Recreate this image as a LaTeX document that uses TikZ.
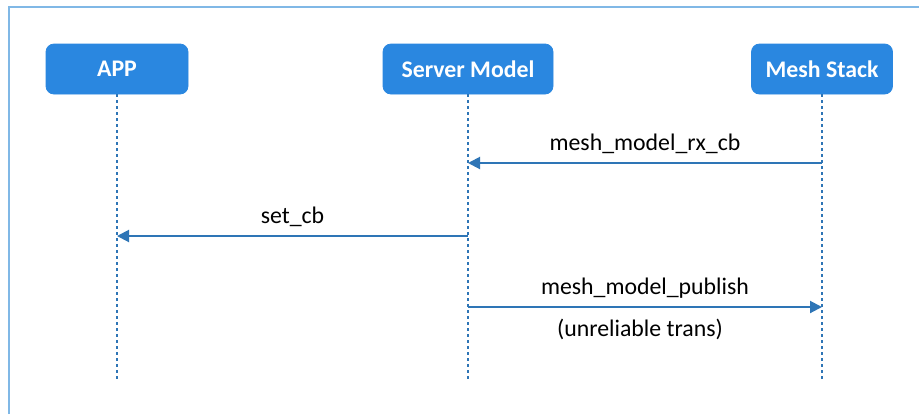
\documentclass[tikz,border=0pt]{standalone}
\usepackage{fontspec}
\setmainfont{Carlito}
\usetikzlibrary{arrows.meta}

\definecolor{boxblue}{RGB}{42,135,224}
\definecolor{lineblue}{RGB}{46,117,182}
\definecolor{frameblue}{RGB}{128,184,230}

\begin{document}
\begin{tikzpicture}[x=0.5pt, y=-0.5pt]

    \tikzstyle{actor} = [draw=boxblue, fill=boxblue, rounded corners=4pt, text=white, font=\fontsize{11.9}{14}\selectfont\bfseries, minimum height=25pt, inner sep=0pt]
    \tikzstyle{lifeline} = [lineblue, line width=1pt, dash pattern=on 1.5pt off 1.5pt]
    \tikzstyle{msg} = [lineblue, line width=1pt, -{Triangle[length=6pt, width=6pt]}]
    \tikzstyle{msgtext} = [font=\fontsize{11.9}{14}\selectfont, text=black, anchor=base]

    \useasboundingbox[fill=white] (0,0) rectangle (919,414);
    \draw[frameblue, line width=1pt] (8.5,414) -- (8.5,6.5) -- (919,6.5);

    \node[actor, minimum width=71pt] (app) at (117,69) {APP};
    \node[actor, minimum width=85pt] (server) at (468,69) {Server Model};
    \node[actor, minimum width=70.5pt] (stack) at (822,69) {Mesh Stack};

    % lifelines
    \coordinate (bottom) at (0,379);
    \draw[lifeline] (app.south) -- (app.south |- bottom);
    \draw[lifeline] (server.south) -- (server.south |- bottom);
    \draw[lifeline] (stack.south) -- (stack.south |- bottom);

    % messages
    \coordinate (rx) at (0,163);
    \coordinate (setcb) at (0,236);
    \coordinate (pub) at (0,307);

    \draw[msg] (stack.south |- rx) -- (server.south |- rx)
        node[msgtext, midway, yshift=6.5pt] {mesh\_model\_rx\_cb};
    \draw[msg] (server.south |- setcb) -- (app.south |- setcb)
        node[msgtext, midway, yshift=6.5pt] {set\_cb};
    \draw[msg] (server.south |- pub) -- (stack.south |- pub)
        node[msgtext, midway, yshift=6.5pt] {mesh\_model\_publish}
        node[msgtext, midway, yshift=-14.5pt, xshift=-2.5pt] {(unreliable trans)};
\end{tikzpicture}
\end{document}
